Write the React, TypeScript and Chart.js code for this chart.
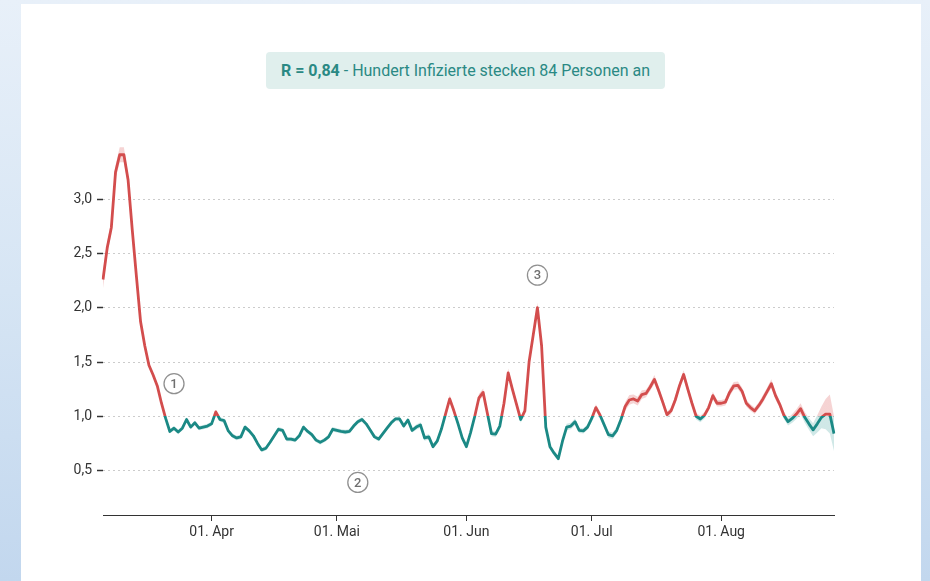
import React, { useEffect, useRef } from 'react';
import { Chart, registerables } from 'chart.js';

Chart.register(...registerables);

// First day of the series: 6 March 2020
const startYear = 2020;
const startMonth = 2; // March (0-based)
const startDay = 6;

const monthNames = ['Jan', 'Feb', 'Mär', 'Apr', 'Mai', 'Jun', 'Jul', 'Aug', 'Sep', 'Okt', 'Nov', 'Dez'];

// Daily reproduction number R (6 March – 28 August)
const rValues = [
  2.26, 2.55, 2.74, 3.25, 3.41, 3.41, 3.18, 2.72, 2.29, 1.87,
  1.65, 1.47, 1.38, 1.28, 1.12, 0.98, 0.86, 0.89, 0.855, 0.89,
  0.97, 0.90, 0.94, 0.89, 0.90, 0.91, 0.93, 1.04, 0.97, 0.96,
  0.865, 0.82, 0.80, 0.81, 0.90, 0.865, 0.82, 0.75, 0.69, 0.705,
  0.76, 0.82, 0.88, 0.87, 0.79, 0.79, 0.78, 0.82, 0.90, 0.86,
  0.83, 0.78, 0.76, 0.78, 0.81, 0.88, 0.87, 0.86, 0.855, 0.86,
  0.91, 0.95, 0.97, 0.93, 0.87, 0.81, 0.79, 0.84, 0.89, 0.94,
  0.975, 0.975, 0.91, 0.965, 0.87, 0.90, 0.92, 0.80, 0.81, 0.72,
  0.77, 0.88, 1.02, 1.16, 1.05, 0.93, 0.80, 0.72, 0.85, 1.0,
  1.17, 1.22, 1.03, 0.84, 0.835, 0.91, 1.12, 1.40, 1.25, 1.11,
  0.97, 1.05, 1.50, 1.75, 2.0, 1.65, 0.90, 0.72, 0.66, 0.61,
  0.77, 0.90, 0.91, 0.95, 0.87, 0.865, 0.90, 0.98, 1.08, 1.01,
  0.92, 0.83, 0.82, 0.87, 0.97, 1.09, 1.15, 1.16, 1.14, 1.20,
  1.21, 1.27, 1.34, 1.24, 1.13, 1.015, 1.05, 1.15, 1.28, 1.385,
  1.25, 1.12, 1.0, 0.975, 1.01, 1.08, 1.19, 1.12, 1.12, 1.13,
  1.22, 1.28, 1.285, 1.23, 1.12, 1.08, 1.05, 1.10, 1.16, 1.23,
  1.30, 1.19, 1.11, 1.01, 0.95, 0.98, 1.02, 1.07, 0.99, 0.93,
  0.875, 0.93, 0.99, 1.02, 1.02, 0.84,
];

// Half-width of the uncertainty band around R
const ciHalfWidth = [
  0.08, 0.06, 0.06, 0.06, 0.07, 0.07, 0.05, 0.04, 0.03, 0.03,
  0.03, 0.02, 0.02, 0.02, 0.02, 0.02, 0.02, 0.02, 0.02, 0.02,
  0.02, 0.02, 0.02, 0.02, 0.02, 0.02, 0.02, 0.02, 0.02, 0.02,
  0.02, 0.02, 0.02, 0.02, 0.02, 0.02, 0.02, 0.02, 0.02, 0.02,
  0.02, 0.02, 0.02, 0.02, 0.02, 0.02, 0.02, 0.02, 0.02, 0.02,
  0.02, 0.02, 0.02, 0.02, 0.02, 0.02, 0.02, 0.02, 0.02, 0.02,
  0.02, 0.02, 0.02, 0.02, 0.02, 0.02, 0.02, 0.02, 0.02, 0.02,
  0.02, 0.02, 0.02, 0.02, 0.02, 0.025, 0.025, 0.025, 0.025, 0.025,
  0.025, 0.03, 0.03, 0.035, 0.03, 0.025, 0.025, 0.025, 0.03, 0.03,
  0.035, 0.035, 0.03, 0.025, 0.025, 0.03, 0.035, 0.04, 0.035, 0.03,
  0.03, 0.03, 0.035, 0.04, 0.045, 0.04, 0.03, 0.025, 0.025, 0.025,
  0.025, 0.03, 0.03, 0.03, 0.025, 0.025, 0.025, 0.03, 0.03, 0.03,
  0.03, 0.03, 0.03, 0.03, 0.035, 0.04, 0.045, 0.04, 0.04, 0.04,
  0.035, 0.035, 0.04, 0.035, 0.035, 0.03, 0.03, 0.035, 0.035, 0.04,
  0.035, 0.03, 0.03, 0.03, 0.03, 0.03, 0.035, 0.03, 0.03, 0.03,
  0.035, 0.035, 0.035, 0.035, 0.03, 0.03, 0.03, 0.03, 0.035, 0.035,
  0.04, 0.035, 0.035, 0.035, 0.035, 0.04, 0.045, 0.05, 0.05, 0.055,
  0.06, 0.08, 0.10, 0.14, 0.18, 0.16,
];

const yTickValues = [0.5, 1.0, 1.5, 2.0, 2.5, 3.0];
const threshold = 1.0;

// Circled markers: day index and R level
const markerLabels = ['1', '2', '3'];
const markerDays = [17, 61, 104];
const markerLevels = [1.30, 0.39, 2.30];

const RED = '#d34d4d';
const TEAL = '#1b8985';
const RED_BAND = 'rgba(226, 120, 120, 0.32)';
const TEAL_BAND = 'rgba(40, 150, 145, 0.22)';

const dates = rValues.map((_, i) => new Date(startYear, startMonth, startDay + i));
const dayLabels = dates.map(
  (d) => `${String(d.getDate()).padStart(2, '0')}. ${monthNames[d.getMonth()]}`
);
const upperBand = rValues.map((v, i) => v + ciHalfWidth[i]);
const lowerBand = rValues.map((v, i) => v - ciHalfWidth[i]);

function splitGradient(chart: any, above: string, below: string) {
  const { chartArea, scales } = chart;
  if (!chartArea || !scales.y) return above;
  const top = chartArea.top;
  const bottom = chartArea.bottom;
  const yPix = scales.y.getPixelForValue(threshold);
  let stop = (yPix - top) / (bottom - top);
  stop = Math.max(0, Math.min(1, stop));
  const g = chart.ctx.createLinearGradient(0, top, 0, bottom);
  g.addColorStop(0, above);
  g.addColorStop(stop, above);
  g.addColorStop(stop, below);
  g.addColorStop(1, below);
  return g;
}

const markerPlugin = {
  id: 'circledMarkers',
  afterDatasetsDraw(chart: any) {
    const { ctx, scales } = chart;
    ctx.save();
    markerLabels.forEach((label, i) => {
      const x = scales.x.getPixelForValue(markerDays[i]);
      const y = scales.y.getPixelForValue(markerLevels[i]);
      ctx.beginPath();
      ctx.arc(x, y, 10, 0, Math.PI * 2);
      ctx.fillStyle = '#ffffff';
      ctx.fill();
      ctx.lineWidth = 1.3;
      ctx.strokeStyle = '#909090';
      ctx.stroke();
      ctx.fillStyle = '#6f6f6f';
      ctx.font = '500 13px Roboto';
      ctx.textAlign = 'center';
      ctx.textBaseline = 'middle';
      ctx.fillText(label, x, y + 1);
    });
    ctx.restore();
  },
};

export default function App() {
  const canvasRef = useRef<HTMLCanvasElement>(null);

  useEffect(() => {
    document.body.style.margin = '0';
    const chart = new Chart(canvasRef.current as HTMLCanvasElement, {
      type: 'line',
      data: {
        labels: dayLabels,
        datasets: [
          {
            label: 'R',
            data: rValues,
            borderColor: (ctx: any) => splitGradient(ctx.chart, RED, TEAL),
            borderWidth: 2.8,
            pointRadius: 0,
            tension: 0,
            fill: false,
            borderJoinStyle: 'round',
          },
          {
            label: 'upper',
            data: upperBand,
            borderWidth: 0,
            pointRadius: 0,
            tension: 0,
            fill: '+1',
            backgroundColor: (ctx: any) => splitGradient(ctx.chart, RED_BAND, TEAL_BAND),
          },
          {
            label: 'lower',
            data: lowerBand,
            borderWidth: 0,
            pointRadius: 0,
            tension: 0,
            fill: false,
          },
        ],
      },
      options: {
        animation: false,
        responsive: true,
        maintainAspectRatio: false,
        layout: { padding: { left: 0, right: 96, top: 145, bottom: 36 } },
        plugins: {
          legend: { display: false },
          tooltip: { enabled: false },
          title: { display: false },
        },
        scales: {
          x: {
            type: 'category',
            offset: false,
            afterFit: (s: any) => {
              s.height = 30;
            },
            afterBuildTicks: (s: any) => {
              s.ticks = s.ticks.filter((t: any) => dates[t.value] && dates[t.value].getDate() === 1);
            },
            grid: {
              display: true,
              drawOnChartArea: false,
              drawTicks: true,
              tickLength: 6,
              tickColor: '#333333',
              tickWidth: 1,
            },
            border: { display: true, color: '#333333', width: 1 },
            ticks: {
              autoSkip: false,
              maxRotation: 0,
              minRotation: 0,
              padding: 3,
              color: '#333333',
              font: { family: 'Roboto', size: 14 },
            },
          },
          y: {
            type: 'linear',
            min: 0.09,
            max: 3.5,
            afterFit: (s: any) => {
              s.width = 103;
            },
            afterBuildTicks: (s: any) => {
              s.ticks = yTickValues.map((v) => ({ value: v }));
            },
            grid: {
              display: true,
              color: '#cccccc',
              lineWidth: 1,
              drawTicks: true,
              tickLength: 6,
              tickColor: '#333333',
              tickWidth: 1.5,
              tickBorderDash: [],
            },
            border: { display: false, dash: [2, 3] },
            ticks: {
              padding: 5,
              color: '#333333',
              font: { family: 'Roboto', size: 14 },
              callback: (v: any) => Number(v).toFixed(1).replace('.', ','),
            },
          },
        },
      },
      plugins: [markerPlugin],
    } as any);
    return () => chart.destroy();
  }, []);

  return (
    <div
      style={{
        position: 'fixed',
        left: 0,
        top: 0,
        width: 930,
        height: 581,
        overflow: 'hidden',
        background: 'linear-gradient(180deg, #e8f0f9 0%, #d6e5f4 50%, #c2d7ee 100%)',
      }}
    >
      <div
        style={{
          position: 'absolute',
          left: 21,
          top: 4,
          width: 900,
          height: 600,
          background: '#ffffff',
        }}
      />
      <div
        style={{
          position: 'absolute',
          left: 266,
          top: 52,
          width: 399,
          height: 37,
          background: '#e0efed',
          borderRadius: 4,
          display: 'flex',
          alignItems: 'center',
          justifyContent: 'center',
          fontFamily: 'Roboto',
          fontSize: 16,
          color: '#2a8984',
          whiteSpace: 'nowrap',
        }}
      >
        <span>
          <b>R = 0,84</b> - Hundert Infizierte stecken 84 Personen an
        </span>
      </div>
      <div style={{ position: 'absolute', left: 0, top: 0, width: 930, height: 581 }}>
        <canvas ref={canvasRef} />
      </div>
    </div>
  );
}
